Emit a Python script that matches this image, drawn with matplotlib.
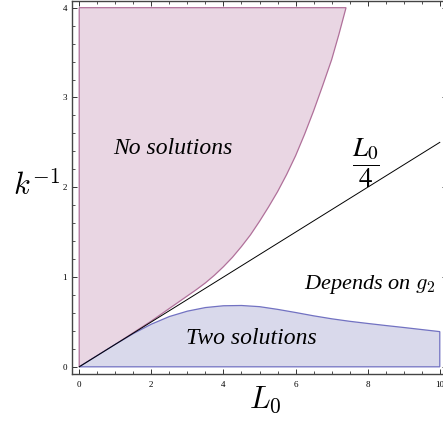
import matplotlib
matplotlib.use("Agg")
import matplotlib.pyplot as plt
import numpy as np
from matplotlib.ticker import MultipleLocator

# Boundary of the "No solutions" region (lower curve)
no_sol_x = [0, 0.5, 1, 1.5, 2, 2.5, 3, 3.25, 3.5, 3.75, 4, 4.25, 4.5, 4.75, 5, 5.25, 5.5, 5.75,
            6, 6.25, 6.5, 6.75, 7, 7.2, 7.4]
no_sol_y = [0, 0.125, 0.25, 0.38, 0.51, 0.65, 0.79, 0.86, 0.935, 1.02, 1.115, 1.22, 1.34, 1.47,
            1.62, 1.78, 1.95, 2.14, 2.35, 2.59, 2.85, 3.13, 3.42, 3.7, 4.0]
y_top = 4.0

# Upper boundary of the "Two solutions" region
two_sol_x = [0, 0.5, 1, 1.5, 2, 2.5, 3, 3.5, 4, 4.5, 5, 5.5, 6, 6.5, 7, 7.5, 8, 8.5, 9, 9.5, 10]
two_sol_y = [0, 0.125, 0.25, 0.37, 0.475, 0.56, 0.62, 0.66, 0.68, 0.683, 0.67, 0.64, 0.605, 0.568,
             0.535, 0.507, 0.483, 0.46, 0.438, 0.415, 0.392]

# Reference line L0/4
line_x = [0, 10]
line_y = [0, 2.5]

x_ticks = [0, 2, 4, 6, 8, 10]
y_ticks = [0, 1, 2, 3, 4]

plt.rcParams['font.family'] = ['Liberation Serif', 'DejaVu Serif']

fig = plt.figure(figsize=(4.43, 4.25), dpi=100)
ax = fig.add_axes([72/443, 51/425, 375/443, 373.5/425])

pink_face = '#e9d6e3'
pink_edge = '#b0709a'
blue_face = '#d9d9eb'
blue_edge = '#7272c2'

px = list(no_sol_x) + [0]
py = list(no_sol_y) + [y_top]
ax.fill(px, py, facecolor=pink_face, edgecolor=pink_edge, lw=0.9, zorder=1)

bx = list(two_sol_x) + [two_sol_x[-1], 0]
by = list(two_sol_y) + [0, 0]
ax.fill(bx, by, facecolor=blue_face, edgecolor=blue_edge, lw=0.9, zorder=1)

ax.plot(line_x, line_y, color='black', lw=0.7, zorder=2)

ax.set_xlim(-0.2, 10.2)
ax.set_ylim(-0.08, 4.08)
ax.set_xticks(x_ticks)
ax.set_yticks(y_ticks)
ax.set_xticklabels([str(t) for t in x_ticks])
ax.set_yticklabels([str(t) for t in y_ticks])
ax.xaxis.set_minor_locator(MultipleLocator(0.5))
ax.yaxis.set_minor_locator(MultipleLocator(0.2))
ax.tick_params(which='both', direction='in', top=True, right=True, colors='#333333', labelcolor='black')
ax.tick_params(which='major', length=3.8, width=0.7, labelsize=6.5)
ax.tick_params(axis='x', which='major', pad=5)
ax.tick_params(axis='y', which='major', pad=3.5)
ax.tick_params(which='minor', length=2.2, width=0.6)
for s in ax.spines.values():
    s.set_color('#444444')
    s.set_linewidth(1.0)

ax.text(2.6, 2.43, 'No solutions', style='italic', fontsize=17, ha='center', va='center')
ax.text(4.77, 0.32, 'Two solutions', style='italic', fontsize=17, ha='center', va='center')
ax.text(8.05, 0.92, 'Depends on $g_2$', style='italic', fontsize=16, ha='center', va='center',
        math_fontfamily='cm')
ax.text(7.95, 2.27, r'$\dfrac{L_0}{4}$', fontsize=19.5, ha='center', va='center', math_fontfamily='stix')

fig.text(37/443, 1 - 186/425, r'$k^{-1}$', fontsize=22, ha='center', va='center', math_fontfamily='cm')
fig.text(265/443, 1 - 400/425, r'$L_0$', fontsize=22, ha='center', va='center', math_fontfamily='cm')

fig.savefig('out.png', dpi=100)
